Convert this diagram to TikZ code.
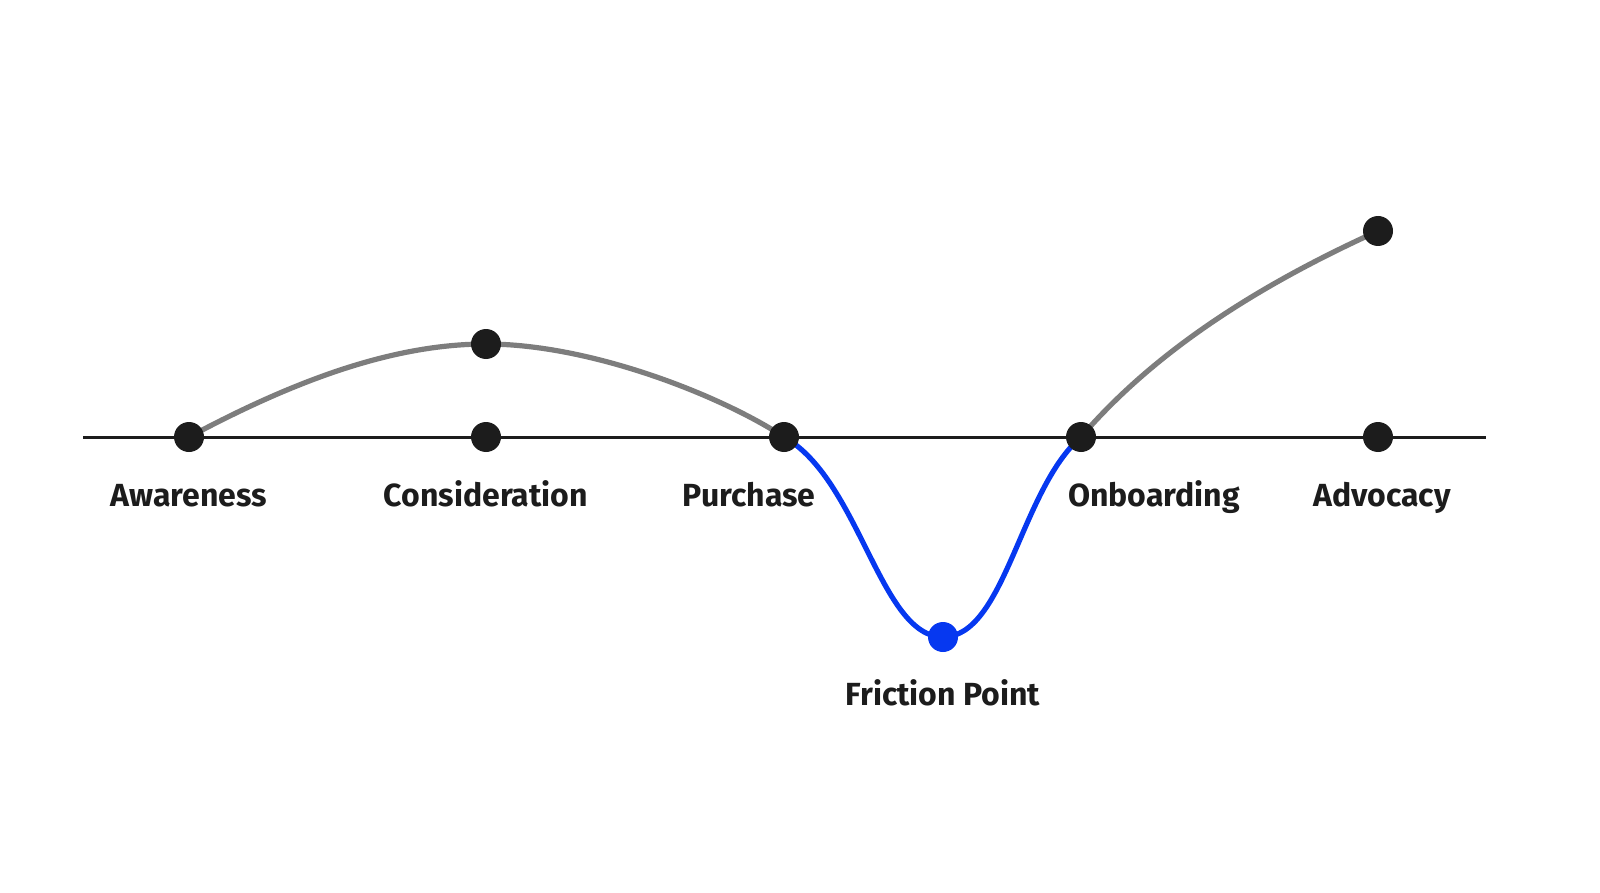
\documentclass[tikz,border=0pt]{standalone}
\usepackage{fontspec}
\setmainfont{Fira Sans}
\usepackage{tikz}

\tikzset{
  stage/.style={circle,fill={rgb,255:red,28;green,28;blue,28},inner sep=0pt,minimum size=15pt},
  fric/.style={circle,fill={rgb,255:red,6;green,56;blue,240},inner sep=0pt,minimum size=15pt},
  lbl/.style={inner sep=0.75pt,text height=11pt,text depth=3pt,font=\fontsize{16}{19}\selectfont\bfseries,text={rgb,255:red,28;green,28;blue,28}},
  grayline/.style={line width=2.6pt,color={rgb,255:red,125;green,125;blue,125}},
  blueline/.style={line width=2.6pt,color={rgb,255:red,6;green,56;blue,240}}
}

\begin{document}
\begin{tikzpicture}[x=0.5pt,y=0.5pt,yscale=-1,xscale=1]
\useasboundingbox (0,0) rectangle (1600,893);

% axis
\coordinate (axL) at (83,437);
\coordinate (axR) at (1486,437);
\draw [line width=1.5pt,color={rgb,255:red,28;green,28;blue,28}] (axL) -- (axR);

% journey curves
\draw [grayline] (189,437) .. controls (290,383) and (390,344) .. (486,344)
                 .. controls (590,344) and (720,395) .. (784,437);
\draw [blueline] (784,437) .. controls (860,480) and (880,637) .. (943,637)
                 .. controls (1005,637) and (1020,490) .. (1081,437);
\draw [grayline] (1081,437) .. controls (1160,345) and (1270,280) .. (1378,231);

% points
\node [stage] (awa) at (189,437) {};
\node [stage] (con) at (486,437) {};
\node [stage] (conH) at (486,344) {};
\node [stage] (pur) at (784,437) {};
\node [stage] (onb) at (1081,437) {};
\node [stage] (adv) at (1378,437) {};
\node [stage] (advH) at (1378,231) {};
\node [fric] (fri) at (943,637) {};

% Text Node
\node [lbl] (awaL) at (189,498) {Awareness};
\node [lbl] (conL) at (486,498) {Consideration};
\node [lbl] (purL) at (749,498) {Purchase};
\node [lbl] (onbL) at (1154,498) {Onboarding};
\node [lbl] (advL) at (1382,498) {Advocacy};
\node [lbl] (friL) at (943,697) {Friction Point};

\end{tikzpicture}
\end{document}
